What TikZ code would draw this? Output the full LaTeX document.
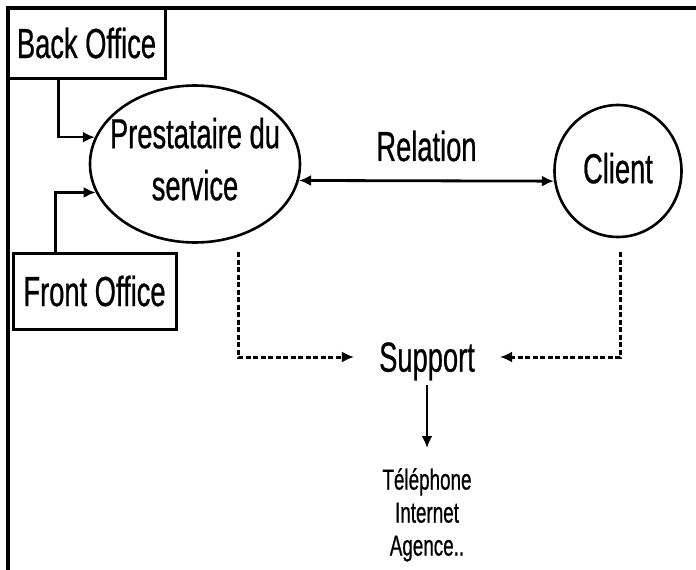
\documentclass[tikz,border=0pt]{standalone}
\usepackage{fontspec}
\setmainfont{Liberation Sans}[FakeStretch=0.65,FakeBold=0.6]
\usetikzlibrary{arrows.meta,shapes.geometric,calc}
\begin{document}
\begin{tikzpicture}[x=1pt,y=-1pt,
  big/.style={font=\fontsize{42}{52}\selectfont},
  small/.style={font=\fontsize{29}{33}\selectfont},
  officebox/.style={draw,line width=3pt,inner sep=0pt,big},
  oval/.style={draw,ellipse,line width=2.6pt,inner sep=0pt,big,align=center},
  conn/.style={line width=2.6pt,-{Latex[length=12pt,width=11pt]}},
  dsh/.style={line width=3pt,dash pattern=on 5pt off 2.5pt,-{Latex[length=12pt,width=11pt]}},
  twoway/.style={line width=2.8pt,{Latex[length=12pt,width=11pt]}-{Latex[length=12pt,width=11pt]}},
]
\useasboundingbox (0,0) rectangle (696,570);
\draw[line width=3.5pt] (696,8) -- (8,8) -- (8,572);

\node[officebox, minimum width=157pt, minimum height=70pt] (bo) at (86.5,43) {Back Office};
\node[officebox, minimum width=163pt, minimum height=76pt] (fo) at (94.5,291) {Front Office};

\node[oval, minimum width=210pt, minimum height=157pt, inner xsep=-15pt, inner ysep=0pt, text depth=10pt] (prest) at (195,164) {Prestataire du\\service};
\node[oval, minimum width=127pt, minimum height=132pt, text depth=6pt] (client) at (618,171) {Client};

\draw[conn] ($(bo.south west)+(52,0)$) |- (prest.165);
\draw[conn] ($(fo.north west)+(44,0)$) |- (prest.196);

\draw[twoway] (prest.351) -- (client.189) node[midway, above=18pt, inner sep=0pt, big] (rel) {Relation};

\node[big, inner xsep=25pt, inner ysep=13pt, text depth=0pt] (support) at (427,357) {Support};
\coordinate (d1) at (238,252);
\coordinate (d2) at (620,252);
\draw[dsh] (d1) |- (support.west);
\draw[dsh] (d2) |- (support.east);

\node[small, align=center, anchor=north, inner sep=0pt] (media) at (427,468) {Téléphone\\Internet\\Agence..};
\draw[conn, shorten >=20pt] (support.south) -- (media.north);
\end{tikzpicture}
\end{document}
